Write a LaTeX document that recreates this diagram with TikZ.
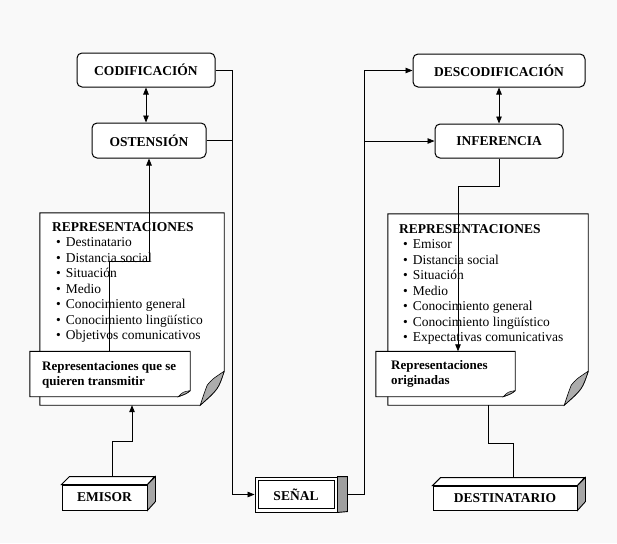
\documentclass[tikz,border=0pt]{standalone}
\usepackage{fontspec}
\setmainfont{Liberation Serif}
\usetikzlibrary{positioning,arrows.meta}

\tikzset{
  etapa/.style={draw, rounded corners=5pt, line width=1pt, fill=white, inner sep=0pt,
    font=\bfseries\fontsize{13.5}{15}\selectfont},
  bloque/.style={draw, line width=0.9pt, fill=white, inner sep=0pt,
    font=\bfseries\fontsize{13.5}{15}\selectfont},
  hoja/.style={minimum width=#1, inner sep=0pt},
  lista/.style={anchor=north west, inner sep=0pt, align=left,
    font=\fontsize{13.5}{15.5}\selectfont},
  nota/.style={anchor=north west, inner sep=0pt, align=left,
    font=\bfseries\fontsize{13}{15}\selectfont},
  linea/.style={line width=0.8pt},
  flecha/.style={linea, -{Triangle[length=7pt,width=5.5pt]}},
  doble/.style={linea, {Triangle[length=7pt,width=5.5pt]}-{Triangle[length=7pt,width=5.5pt]}}
}
\newcommand{\punto}{\hspace*{4pt}\textbullet\hspace{5pt}}

\begin{document}
\begin{tikzpicture}[x=1pt,y=-1pt]
\useasboundingbox[fill=gray!5] (0,0) rectangle (617,543);

% etapas del emisor y del destinatario
\node[etapa, minimum width=138pt, minimum height=34pt] (cod) at (146,70) {CODIFICACIÓN};
\node[etapa, minimum width=114pt, minimum height=35pt, below=35pt of cod, xshift=3pt] (ost) {OSTENSIÓN};
\node[etapa, minimum width=172pt, minimum height=33pt] (desc) at (499,70.5) {DESCODIFICACIÓN};
\node[etapa, minimum width=128pt, minimum height=34pt, below=36pt of desc] (inf) {INFERENCIA};

% hojas de representaciones
\node[hoja=184pt, minimum height=192pt] (repi) at (132,309) {};
\node[hoja=200pt, minimum height=191pt] (repd) at (488,309.5) {};
\node[hoja=160pt, minimum height=45pt] (transi) at (110,374) {};
\node[hoja=139pt, minimum height=45pt] (orig) at (445.5,374) {};

\foreach \n in {repi,repd}{
  \draw[line width=0.9pt, fill=white] (\n.north west) -- (\n.north east)
    -- ([yshift=34pt]\n.south east)
    .. controls ([xshift=-6pt,yshift=16pt]\n.south east) .. ([xshift=-24pt]\n.south east)
    -- (\n.south west) -- cycle;
  \draw[line width=0.6pt, fill=gray!65] ([yshift=34pt]\n.south east)
    .. controls ([xshift=-12pt,yshift=26pt]\n.south east) .. ([xshift=-17pt,yshift=20pt]\n.south east)
    .. controls ([xshift=-20pt,yshift=12pt]\n.south east) .. ([xshift=-24pt]\n.south east)
    .. controls ([xshift=-6pt,yshift=16pt]\n.south east) .. ([yshift=34pt]\n.south east);
}

\node[lista] (listai) at (52,222) {{\bfseries REPRESENTACIONES}\\
  \punto Destinatario\\
  \punto Distancia social\\
  \punto Situación\\
  \punto Medio\\
  \punto Conocimiento general\\
  \punto Conocimiento lingüístico\\
  \punto Objetivos comunicativos};
\node[lista] (listad) at (399,224) {{\bfseries REPRESENTACIONES}\\
  \punto Emisor\\
  \punto Distancia social\\
  \punto Situación\\
  \punto Medio\\
  \punto Conocimiento general\\
  \punto Conocimiento lingüístico\\
  \punto Expectativas comunicativas};

\foreach \n in {transi,orig}{
  \draw[line width=0.9pt, fill=white] (\n.north west) -- (\n.north east)
    -- ([yshift=6pt]\n.south east)
    .. controls ([xshift=-4pt,yshift=3pt]\n.south east) .. ([xshift=-12pt]\n.south east)
    -- (\n.south west) -- cycle;
  \draw[line width=0.5pt, fill=gray!65] ([yshift=6pt]\n.south east)
    .. controls ([xshift=-7pt,yshift=5pt]\n.south east) .. ([xshift=-12pt]\n.south east)
    .. controls ([xshift=-4pt,yshift=3pt]\n.south east) .. ([yshift=6pt]\n.south east);
}
\node[nota] (txti) at (42,361) {Representaciones que se\\quieren transmitir};
\node[nota] (txtd) at (391,360) {Representaciones\\originadas};

% bloques de abajo
\node[bloque, minimum width=85pt, minimum height=25pt] (emisor) at (104.5,497.5) {EMISOR};
\node[bloque, minimum width=144pt, minimum height=24pt] (dest) at (505,498) {DESTINATARIO};
\foreach \n/\w/\h in {emisor/85/25,dest/144/24}{
  \draw[line width=0.9pt, fill=white] (\n.north west) -- ++(8,-8) -- ++(\w,0) -- (\n.north east) -- cycle;
  \draw[line width=0.9pt, fill=gray!70] (\n.north east) -- ++(8,-8) -- ++(0,\h) -- (\n.south east) -- cycle;
}
\node[bloque, minimum width=82pt, minimum height=35pt] (senal) at (296,494.5) {SEÑAL};
\draw[line width=0.6pt] ([shift={(4,4)}]senal.north west) rectangle ([shift={(-3,-4)}]senal.south east);
\draw[line width=0.9pt, fill=gray!75] (senal.north east) -- ++(10,0) -- ++(0,35) -- (senal.south east) -- cycle;

% conexiones
\coordinate (codo) at ([xshift=17pt]cod.east);
\coordinate (codd) at ([xshift=27pt]senal.east);
\draw[doble] (cod.south) -- (cod.south |- ost.north);
\draw[doble] (desc.south) -- (inf.north);
\draw[flecha] ([shift={(8,-8)}]emisor.north) -- ++(0,-35) -| (repi.south);
\draw[flecha] ([xshift=-1pt]transi.north) -- ++(0,-90) -| (ost.south);
\draw[flecha] (cod.east) -- (codo) |- (senal.west);
\draw[linea] (ost.east) -- (ost.east -| codo);
\draw[linea] ([xshift=10pt]senal.east) -- (codd);
\draw[flecha] (codd) |- (desc.west);
\draw[flecha] (codd |- inf.west) -- (inf.west);
\draw[flecha] (inf.south) -- ++(0,28) -| ([xshift=12.5pt]orig.north);
\draw[linea] (repd.south) -- ++(0,38) -| ([shift={(8,-8)}]dest.north);
\end{tikzpicture}
\end{document}
